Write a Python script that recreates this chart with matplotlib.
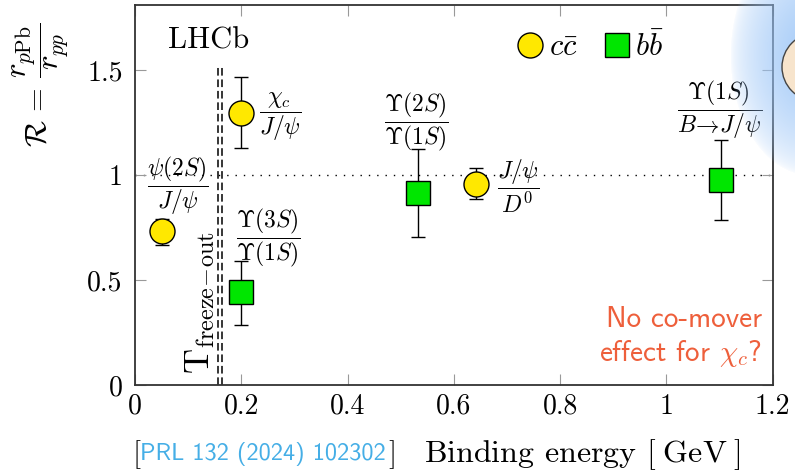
import numpy as np
import matplotlib
matplotlib.use("Agg")
import matplotlib.pyplot as plt
from matplotlib.lines import Line2D
from matplotlib.patches import Ellipse

plt.rcParams['mathtext.fontset'] = 'cm'
plt.rcParams['font.family'] = ['cmr10', 'DejaVu Serif']
plt.rcParams['axes.formatter.use_mathtext'] = True

# data
cc_x = [0.051, 0.200, 0.642]
cc_y = [0.733, 1.295, 0.957]
cc_lo = [0.066, 0.165, 0.071]
cc_hi = [0.057, 0.172, 0.076]
cc_labels = [r'$\dfrac{\psi(2S)}{J/\psi}$', r'$\dfrac{\chi_c}{J/\psi}$', r'$\dfrac{J/\psi}{D^0}$']
cc_label_pos = [(0.081, 0.95), (0.273, 1.276), (0.72, 0.943)]

bb_x = [0.200, 0.532, 1.103]
bb_y = [0.443, 0.914, 0.976]
bb_lo = [0.157, 0.209, 0.190]
bb_hi = [0.147, 0.210, 0.191]
bb_labels = [r'$\dfrac{\Upsilon(3S)}{\Upsilon(1S)}$',
             r'$\dfrac{\Upsilon(2S)}{\Upsilon(1S)}$',
             r'$\dfrac{\Upsilon(1S)}{B\!\rightarrow\! J/\psi}$']
bb_label_pos = [(0.25, 0.70), (0.53, 1.252), (1.10, 1.31)]

x_ticks = [0, 0.2, 0.4, 0.6, 0.8, 1.0, 1.2]
x_ticklabels = ['0', '0.2', '0.4', '0.6', '0.8', '1', '1.2']
y_ticks = [0, 0.5, 1.0, 1.5]
y_ticklabels = ['0', '0.5', '1', '1.5']
t_freeze = [0.156, 0.163]

yellow = '#FFE800'
green = '#00E600'

fig = plt.figure(figsize=(7.95, 4.74), dpi=100)
ax = fig.add_axes([0.170, 0.188, 0.802, 0.802])
ax.set_xlim(0, 1.2)
ax.set_ylim(0, 1.81)

# reference lines
ax.axhline(1.0, color='black', lw=1.0, ls=(0, (1, 5)), zorder=1)
for xf in t_freeze:
    ax.plot([xf, xf], [0, 1.52], color='black', lw=1.1, ls=(0, (5, 2.5)), zorder=1)

ax.errorbar(cc_x, cc_y, yerr=[cc_lo, cc_hi], fmt='o', ms=18, mfc=yellow, mec='black',
            mew=1.0, ecolor='black', elinewidth=1.0, capsize=5, capthick=1.0, zorder=3)
ax.errorbar(bb_x, bb_y, yerr=[bb_lo, bb_hi], fmt='s', ms=17, mfc=green, mec='black',
            mew=1.0, ecolor='black', elinewidth=1.0, capsize=5, capthick=1.0, zorder=3)

for lab, (lx, ly) in zip(cc_labels + bb_labels, cc_label_pos + bb_label_pos):
    ax.text(lx, ly, lab, fontsize=17, ha='center', va='center', zorder=4)

ax.text(0.062, 1.64, 'LHCb', fontsize=22, ha='left', va='center')
ax.text(0.122, 0.39, r'$\mathrm{T}_{\mathrm{freeze\!-\!out}}$', fontsize=25, rotation=90,
        ha='center', va='center')
ax.text(1.18, 0.225, 'No co-mover\neffect for $\\chi_c$?', fontsize=21, color='#EE5F3B',
        family='cmss10', ha='right', va='center', linespacing=1.2)

handles = [Line2D([], [], ls='', marker='o', ms=18, mfc=yellow, mec='black', mew=1.0),
           Line2D([], [], ls='', marker='s', ms=17, mfc=green, mec='black', mew=1.0)]
ax.legend(handles, [r'$c\bar{c}$', r'$b\bar{b}$'], loc='center', bbox_to_anchor=(0.715, 0.89),
          ncol=2, frameon=False, fontsize=22, handlelength=0.8, handletextpad=0.2,
          columnspacing=0.9)

ax.set_xticks(x_ticks)
ax.set_xticklabels(x_ticklabels)
ax.set_yticks(y_ticks)
ax.set_yticklabels(y_ticklabels)
ax.tick_params(direction='in', length=8, width=0.8, color='#999999', labelsize=20,
               top=True, right=True)
ax.tick_params(axis='y', pad=9)
ax.tick_params(axis='x', pad=6)
for s in ax.spines.values():
    s.set_linewidth(1.3)
    s.set_color('#333333')

fig.text(0.050, 0.82, r'$\mathcal{R}\,=\,\dfrac{r_{p\mathrm{Pb}}}{r_{pp}}$', fontsize=22,
         rotation=90, ha='center', va='center')

# x label with reference
fig.text(0.167, 0.040, '[', fontsize=21, ha='left', va='center')
fig.text(0.176, 0.042, 'PRL 132 (2024) 102302', fontsize=17.5, color='#45AEE6',
         family='cmss10', ha='left', va='center')
fig.text(0.488, 0.040, ']', fontsize=21, ha='left', va='center')
fig.text(0.733, 0.040, 'Binding energy $[\\;\\mathrm{GeV}\\;]$', fontsize=23, ha='center', va='center')

# slide decoration in the top right corner
ov = fig.add_axes([0.0, 0.0, 1.0, 1.0], facecolor='none')
ov.axis('off')
gx, gy = np.meshgrid(np.arange(680, 796), np.arange(0, 230))
d = np.sqrt(((gx - 810) / 80.0) ** 2 + ((gy - 55) / 120.0) ** 2)
alpha = np.clip(1.0 - d, 0, 1) ** 0.55 * 0.9
img = np.zeros(gx.shape + (4,))
img[..., 0] = 0.60
img[..., 1] = 0.77
img[..., 2] = 0.97
img[..., 3] = alpha
ov.imshow(img, extent=(680, 796, 230, 0), interpolation='bilinear')
ov.add_patch(Ellipse((816, 67), 68, 68, facecolor='#F7E4CC', edgecolor='#444444', lw=1.0))
ov.set_xlim(0, 795)
ov.set_ylim(474, 0)

fig.savefig('out.png', dpi=100)
